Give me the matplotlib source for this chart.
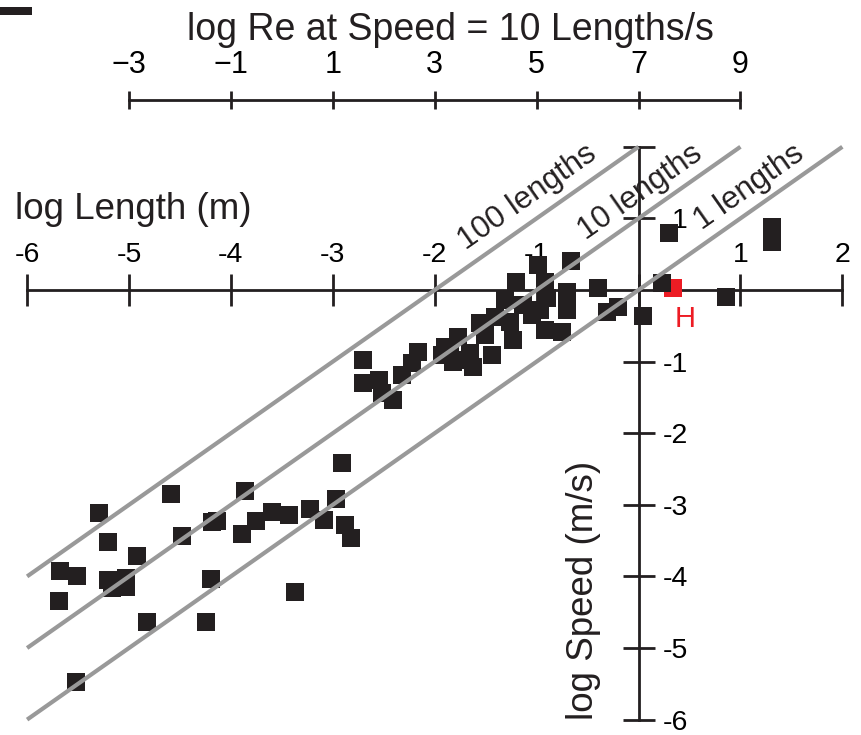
import matplotlib
matplotlib.use("Agg")
import matplotlib.pyplot as plt
from matplotlib.patches import Rectangle
import numpy as np

plt.rcParams['font.family'] = ['Liberation Sans', 'DejaVu Sans']

# ---- data (log10 values) ----
log_length = [-5.68, -5.51, -5.69, -5.29, -5.21, -4.92, -5.21, -5.03, -5.17, -5.03,
              -4.82, -5.52, -4.59, -4.48, -4.24, -4.20, -4.19, -4.14, -3.89, -3.86,
              -3.75, -3.60, -3.43, -3.37, -3.22, -3.09, -2.97, -2.91, -2.88, -2.82,
              -2.70, -2.70, -2.55, -2.52, -2.41, -2.32, -2.22, -2.16, -1.93, -1.90,
              -1.85, -1.77, -1.82, -1.68, -1.62, -1.65, -1.56, -1.44, -1.41, -1.31,
              -1.26, -1.23, -1.20, -1.13, -1.05, -0.97, -0.99, -0.92, -0.90, -0.92,
              -0.75, -0.70, -0.70, -0.66, -0.40, -0.31, -0.20, 0.04, 0.23, 0.30,
              0.86, 1.31, 1.31, -1.51]
log_speed = [-3.93, -3.99, -4.34, -3.12, -3.52, -3.72, -4.05, -4.02, -4.16, -4.15,
             -4.64, -5.48, -2.85, -3.44, -4.64, -4.04, -3.24, -3.23, -3.41, -2.81,
             -3.23, -3.10, -3.14, -4.22, -3.06, -3.21, -2.92, -2.42, -3.28, -3.46,
             -0.98, -1.30, -1.26, -1.44, -1.54, -1.19, -1.02, -0.87, -0.91, -0.80,
             -0.81, -0.66, -1.01, -0.98, -1.08, -0.88, -0.46, -0.91, -0.38, -0.14,
             -0.45, -0.70, 0.11, -0.21, -0.35, -0.28, 0.35, 0.11, -0.11, -0.56,
             -0.59, -0.03, -0.28, 0.41, 0.03, -0.31, -0.24, -0.36, 0.10, 0.80,
             -0.10, 0.88, 0.67, -0.63]
highlight_length = [0.34]
highlight_speed = [0.03]
highlight_label = "H"

ratio_labels = ["100 lengths", "10 lengths", "1 lengths"]
ratio_log = [2, 1, 0]
ratio_x_start = [-6, -6, -6]
ratio_x_end = [0, 1, 2]

x_ticks = [-6, -5, -4, -3, -2, -1, 0, 1, 2]
x_tick_labels = ["-6", "-5", "-4", "-3", "-2", "-1", "", "1", "2"]
y_ticks = [-6, -5, -4, -3, -2, -1, 1, 2]
y_tick_labels = ["-6", "-5", "-4", "-3", "-2", "-1", "1", ""]
re_ticks = [-3, -1, 1, 3, 5, 7, 9]
re_tick_labels = ["\u22123", "\u22121", "1", "3", "5", "7", "9"]

# ---- figure ----
fig = plt.figure(figsize=(8.61, 7.35), dpi=100)
ax = fig.add_axes([0, 0, 1, 1])
ax.set_xlim(-6.266, 2.183)
ax.set_ylim(-6.215, 4.050)
for s in ax.spines.values():
    s.set_visible(False)
ax.set_xticks([])
ax.set_yticks([])

AXC = '#231f20'

# x axis through y = 0, labels above
secx = ax.secondary_xaxis(0, transform=ax.transData)
secx.set_alignment('top')
secx.spines['top'].set_bounds(-6, 2)
secx.spines['top'].set_linewidth(2)
secx.spines['top'].set_color(AXC)
secx.set_xticks(x_ticks, labels=x_tick_labels)
secx.tick_params(direction='inout', length=23, width=2, color=AXC,
                 labelsize=20.5, pad=4)

# y axis through x = 0, labels right (right-aligned)
secy = ax.secondary_yaxis(0, transform=ax.transData)
secy.set_alignment('right')
secy.spines['right'].set_bounds(-6, 2)
secy.spines['right'].set_linewidth(2)
secy.spines['right'].set_color(AXC)
secy.set_yticks(y_ticks, labels=y_tick_labels)
secy.tick_params(direction='inout', length=23, width=2, color=AXC,
                 labelsize=20.5, pad=24)
for lbl in secy.get_yticklabels():
    lbl.set_horizontalalignment('right')

# top Reynolds-number axis (Re = 7 + 2 log L at 10 lengths/s)
def to_re(L):
    return 7 + 2 * np.asarray(L)

def from_re(r):
    return (np.asarray(r) - 7) / 2

secr = ax.secondary_xaxis(2.654, functions=(to_re, from_re), transform=ax.transData)
secr.set_alignment('top')
secr.spines['top'].set_bounds(-3, 9)
secr.spines['top'].set_linewidth(2)
secr.spines['top'].set_color(AXC)
secr.set_xticks(re_ticks, labels=re_tick_labels)
secr.tick_params(direction='inout', length=13, width=2, color=AXC,
                 labelsize=22, pad=8)

ax.text(-1.85, 3.63, "log Re at Speed = 10 Lengths/s", ha='center', va='center',
        fontsize=27, color=AXC)

# speed = n lengths/s lines
for lab, off, x0, x1 in zip(ratio_labels, ratio_log, ratio_x_start, ratio_x_end):
    xs = np.array([x0, x1])
    ax.plot(xs, xs + off, color='#999999', lw=3, zorder=4, solid_capstyle='butt')

label_pos = [(-1.09, 1.29), (0.02, 1.36), (1.09, 1.43)]
for lab, (lx, ly) in zip(ratio_labels, label_pos):
    ax.text(lx, ly, lab, rotation=35.1, rotation_mode='anchor', ha='center',
            va='center', fontsize=22.5, color=AXC, zorder=5)

# data points
ax.scatter(highlight_length, highlight_speed, marker='s', s=150, c='#ed1c24',
           linewidths=0, zorder=2.5)
ax.scatter(log_length, log_speed, marker='s', s=150, c=AXC, linewidths=0, zorder=3)
ax.text(0.46, -0.40, highlight_label, color='#ed1c24', fontsize=21,
        ha='center', va='center')

ax.text(-6.12, 1.12, "log Length (m)", ha='left', va='center', fontsize=26.5, color=AXC)
ax.text(-0.545, -4.19, "log Speed (m/s)", rotation=90, ha='center', va='center',
        fontsize=26.5, color=AXC)

fig.patches.append(Rectangle((0, 0.9796), 0.0372, 0.0109, transform=fig.transFigure,
                             facecolor=AXC, edgecolor='none'))

fig.savefig("out.png", dpi=100)
